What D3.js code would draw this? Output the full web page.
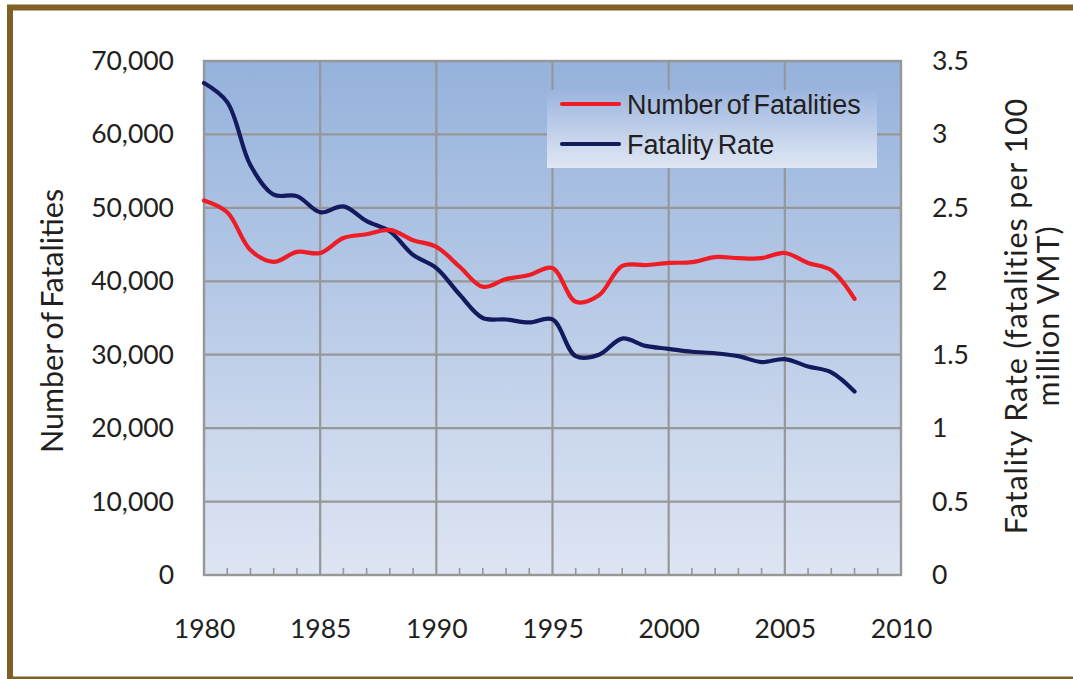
<!DOCTYPE html>
<html>
<head>
<meta charset="utf-8">
<script src="https://cdn.jsdelivr.net/npm/d3@7"></script>
<style>
  html, body { margin: 0; padding: 0; background: #fff; }
  svg { display: block; }
</style>
</head>
<body>
<svg id="chart" width="1073" height="679"></svg>
<script>
// Traffic fatalities, 1980-2008
const years = d3.range(1980, 2009);
const fatalities = [
  51000, 49400, 44250, 42650, 44000, 43850, 45900, 46400, 47000, 45600,
  44700, 42000, 39250, 40300, 40850, 41800, 37200, 38100, 42100, 42200,
  42500, 42600, 43300, 43150, 43150, 43850, 42500, 41500, 37600
];
// Fatalities per 100 million vehicle miles travelled
const fatalityRate = [
  3.35, 3.22, 2.79, 2.59, 2.58, 2.47, 2.51, 2.41, 2.34, 2.18,
  2.09, 1.91, 1.75, 1.74, 1.72, 1.74, 1.49, 1.50, 1.61, 1.56,
  1.54, 1.52, 1.51, 1.49, 1.45, 1.47, 1.42, 1.38, 1.25
];
const xTicks = [1980, 1985, 1990, 1995, 2000, 2005, 2010];
const leftTicks = [0, 10000, 20000, 30000, 40000, 50000, 60000, 70000];
const rightTicks = [0, 0.5, 1, 1.5, 2, 2.5, 3, 3.5];
const seriesNames = ["Number of Fatalities", "Fatality Rate"];

const svg = d3.select("#chart");
const font = "Lato, 'Open Sans', sans-serif";
const textColor = "#231f20";
const gridColor = "#979797";

const plot = { left: 204, right: 901, top: 61, bottom: 575 };

const x = d3.scaleLinear().domain([1980, 2010]).range([plot.left, plot.right]);
const yL = d3.scaleLinear().domain([0, 70000]).range([plot.bottom, plot.top]);
const yR = d3.scaleLinear().domain([0, 3.5]).range([plot.bottom, plot.top]);

// gradients
const defs = svg.append("defs");
const bg = defs.append("linearGradient").attr("id", "plotBg")
  .attr("x1", 0).attr("y1", 0).attr("x2", 0).attr("y2", 1);
bg.append("stop").attr("offset", "0%").attr("stop-color", "#95b2dc");
bg.append("stop").attr("offset", "100%").attr("stop-color", "#dee5f3");

const lg = defs.append("linearGradient").attr("id", "legendBg")
  .attr("x1", 0).attr("y1", 0).attr("x2", 0).attr("y2", 1);
lg.append("stop").attr("offset", "0%").attr("stop-color", "#9cb5de");
lg.append("stop").attr("offset", "100%").attr("stop-color", "#e0e7f4");

// outer frame
svg.append("rect")
  .attr("x", 10).attr("y", 7.5)
  .attr("width", 1090).attr("height", 672)
  .attr("fill", "#fff")
  .attr("stroke", "#7f6128").attr("stroke-width", 6);

// plot background
svg.append("rect")
  .attr("x", plot.left).attr("y", plot.top)
  .attr("width", plot.right - plot.left).attr("height", plot.bottom - plot.top)
  .attr("fill", "url(#plotBg)");

// gridlines
const grid = svg.append("g").attr("stroke", gridColor).attr("stroke-width", 2.2);
grid.selectAll("line.h").data(leftTicks.slice(1, -1)).join("line")
  .attr("x1", plot.left).attr("x2", plot.right)
  .attr("y1", d => yL(d)).attr("y2", d => yL(d));
grid.selectAll("line.v").data(xTicks.slice(1, -1)).join("line")
  .attr("x1", d => x(d)).attr("x2", d => x(d))
  .attr("y1", plot.top).attr("y2", plot.bottom);

// minor year ticks along the bottom
const minor = years.concat([2009]).filter(d => d % 5 !== 0);
grid.selectAll("line.m").data(minor).join("line")
  .attr("stroke-width", 1.6)
  .attr("x1", d => x(d)).attr("x2", d => x(d))
  .attr("y1", plot.bottom).attr("y2", plot.bottom - 7);

// plot border
svg.append("rect")
  .attr("x", plot.left).attr("y", plot.top)
  .attr("width", plot.right - plot.left).attr("height", plot.bottom - plot.top)
  .attr("fill", "none").attr("stroke", gridColor).attr("stroke-width", 2.4);

// axes labels
const axisFont = 26.5;
const leftAxis = d3.axisLeft(yL).tickValues(leftTicks).tickSize(0).tickPadding(30)
  .tickFormat(d3.format(","));
const gl = svg.append("g").attr("transform", `translate(${plot.left},0)`).call(leftAxis);
const rightAxis = d3.axisRight(yR).tickValues(rightTicks).tickSize(0).tickPadding(31)
  .tickFormat(d => String(d));
const gr = svg.append("g").attr("transform", `translate(${plot.right},0)`).call(rightAxis);
const bottomAxis = d3.axisBottom(x).tickValues(xTicks).tickSize(0).tickPadding(44)
  .tickFormat(d3.format("d"));
const gb = svg.append("g").attr("transform", `translate(0,${plot.bottom})`).call(bottomAxis);

[gl, gr, gb].forEach(g => {
  g.select(".domain").remove();
  g.selectAll("text")
    .attr("font-family", font).attr("font-size", axisFont)
    .attr("fill", textColor);
});

// axis titles
const titleFont = 30.5;
svg.append("text")
  .attr("transform", `translate(63,321) rotate(-90)`)
  .attr("text-anchor", "middle")
  .attr("font-family", font).attr("font-size", titleFont).attr("fill", textColor)
  .attr("word-spacing", -3)
  .text("Number of Fatalities");

const rt = svg.append("text")
  .attr("transform", `translate(1027,316) rotate(-90)`)
  .attr("text-anchor", "middle")
  .attr("font-family", font).attr("font-size", titleFont).attr("fill", textColor)
  .attr("letter-spacing", 0.9);
rt.append("tspan").attr("x", 0).attr("dy", 0).text("Fatality Rate  (fatalities per 100");
rt.append("tspan").attr("x", 0).attr("dy", 32).text("million VMT)");

// series
const curve = d3.curveCatmullRom.alpha(0.5);
const lineL = d3.line().x((d, i) => x(years[i])).y(d => yL(d)).curve(curve);
const lineR = d3.line().x((d, i) => x(years[i])).y(d => yR(d)).curve(curve);

svg.append("path").datum(fatalityRate)
  .attr("d", lineR).attr("fill", "none")
  .attr("stroke", "#141a5e").attr("stroke-width", 4.2)
  .attr("stroke-linecap", "round").attr("stroke-linejoin", "round");

svg.append("path").datum(fatalities)
  .attr("d", lineL).attr("fill", "none")
  .attr("stroke", "#ee1c25").attr("stroke-width", 4.2)
  .attr("stroke-linecap", "round").attr("stroke-linejoin", "round");

// legend
const legend = svg.append("g").attr("transform", "translate(547,90)");
legend.append("rect").attr("width", 330).attr("height", 78).attr("fill", "url(#legendBg)");
const colors = ["#ee1c25", "#141a5e"];
seriesNames.forEach((name, i) => {
  const yy = 14 + i * 40;
  legend.append("line")
    .attr("x1", 15).attr("x2", 72).attr("y1", yy).attr("y2", yy)
    .attr("stroke", colors[i]).attr("stroke-width", 4.2).attr("stroke-linecap", "round");
  legend.append("text")
    .attr("x", 80).attr("y", yy).attr("dy", "0.36em")
    .attr("font-family", "'Liberation Sans', Arial, sans-serif")
    .attr("font-size", 27).attr("fill", textColor)
    .attr("letter-spacing", -0.1).attr("word-spacing", -3)
    .text(name);
});
</script>
</body>
</html>
